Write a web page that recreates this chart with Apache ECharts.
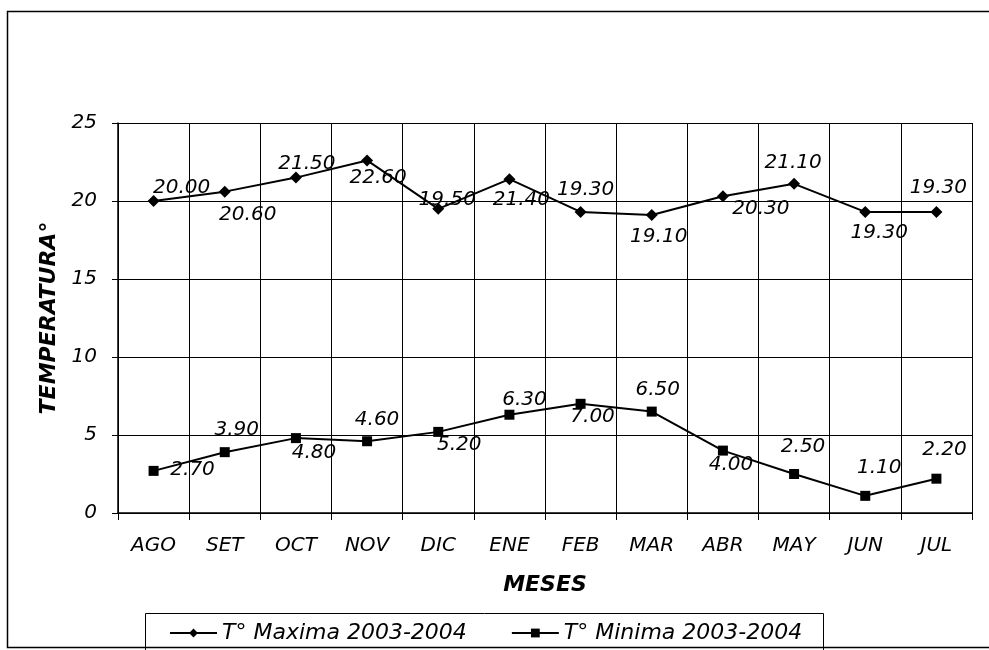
<!DOCTYPE html>
<html>
<head>
<meta charset="utf-8">
<script src="https://cdn.jsdelivr.net/npm/echarts@6/dist/echarts.min.js"></script>
<style>html,body{margin:0;padding:0;background:#fff}#c{width:989px;height:650px}</style>
</head>
<body>
<div id="c"></div>
<script>
var months = ['AGO','SET','OCT','NOV','DIC','ENE','FEB','MAR','ABR','MAY','JUN','JUL'];
var maxName = 'T° Maxima 2003-2004';
var minName = 'T° Minima 2003-2004';
var maxTemp = [20.0, 20.6, 21.5, 22.6, 19.5, 21.4, 19.3, 19.1, 20.3, 21.1, 19.3, 19.3];
var minTemp = [2.7, 3.9, 4.8, 4.6, 5.2, 6.3, 7.0, 6.5, 4.0, 2.5, 1.1, 2.2];
var yTicks = [0, 5, 10, 15, 20, 25];

// label offsets (style only)
var maxLabelOffset = [[28,-13],[23,23],[11,-14],[11,17],[9,-9],[12,21],[5,-22],[7,22],[38,12],[-1,-21],[14,21],[2,-24]];
var minLabelOffset = [[39,-1],[12,-22],[18,15],[10,-21],[21,13],[15,-15],[12,13],[6,-22],[8,14],[9,-27],[14,-28],[8,-29]];

var FONT = 'DejaVu Sans';
function build(vals, offs) {
  return vals.map(function (v, i) {
    return { value: v, label: { offset: offs[i] } };
  });
}
var chart = echarts.init(document.getElementById('c'));
chart.setOption({
  animation: false,
  backgroundColor: '#fff',
  grid: { left: 118, right: 17, top: 123, bottom: 137 },
  xAxis: {
    type: 'category', data: months, boundaryGap: true,
    name: 'MESES', nameLocation: 'middle', nameGap: 61,
    nameTextStyle: { fontFamily: FONT, fontSize: 22, fontStyle: 'italic', fontWeight: 'bold', color: '#000' },
    axisLine: { lineStyle: { color: '#000', width: 1.5 } },
    axisTick: { show: true, length: 7, lineStyle: { color: '#000' } },
    axisLabel: { fontFamily: FONT, fontSize: 20, fontStyle: 'italic', color: '#000', margin: 23 },
    splitLine: { show: true, lineStyle: { color: '#000', width: 1 } }
  },
  yAxis: {
    type: 'value', min: 0, max: 25, interval: 5,
    name: 'TEMPERATURA°', nameLocation: 'middle', nameGap: 52,
    nameTextStyle: { fontFamily: FONT, fontSize: 22, fontStyle: 'italic', fontWeight: 'bold', color: '#000' },
    axisLine: { show: true, lineStyle: { color: '#000', width: 1.5 } },
    axisTick: { show: true, length: 6, lineStyle: { color: '#000' } },
    axisLabel: { fontFamily: FONT, fontSize: 20, fontStyle: 'italic', color: '#000', margin: 21,
      formatter: function (v) { return yTicks.indexOf(v) >= 0 ? String(v) : ''; } },
    splitLine: { show: true, lineStyle: { color: '#000', width: 1 } }
  },
  legend: {
    left: 164, top: 617, itemGap: 44, itemWidth: 47, itemHeight: 11,
    textStyle: { fontFamily: FONT, fontSize: 22, fontStyle: 'italic', color: '#000' },
    data: [maxName, minName]
  },
  graphic: [
    { type: 'rect', shape: { x: 7.5, y: 11.5, width: 1000, height: 636 }, style: { fill: null, stroke: '#000', lineWidth: 1.5 }, silent: true },
    { type: 'rect', shape: { x: 145.5, y: 613.5, width: 678, height: 60 }, style: { fill: null, stroke: '#000', lineWidth: 1 }, silent: true }
  ],
  series: [
    {
      name: maxName, type: 'line', data: build(maxTemp, maxLabelOffset),
      symbol: 'diamond', symbolSize: 12, showAllSymbol: true,
      itemStyle: { color: '#000' }, lineStyle: { color: '#000', width: 2 },
      label: { show: true, position: 'inside', fontFamily: FONT, fontSize: 20, fontStyle: 'italic', color: '#000',
        formatter: function (p) { return p.value.toFixed(2); } }
    },
    {
      name: minName, type: 'line', data: build(minTemp, minLabelOffset),
      symbol: 'rect', symbolSize: 10, showAllSymbol: true,
      itemStyle: { color: '#000' }, lineStyle: { color: '#000', width: 2 },
      label: { show: true, position: 'inside', fontFamily: FONT, fontSize: 20, fontStyle: 'italic', color: '#000',
        formatter: function (p) { return p.value.toFixed(2); } }
    }
  ]
});
</script>
</body>
</html>
